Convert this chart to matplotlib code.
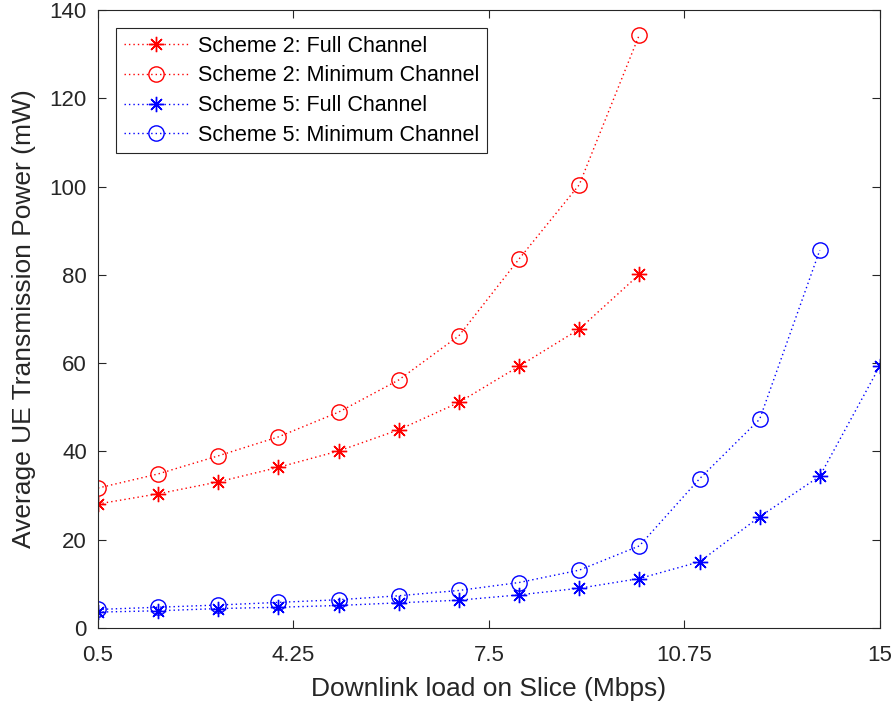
import matplotlib
matplotlib.use("Agg")
import matplotlib.pyplot as plt
import numpy as np

plt.rcParams['font.family'] = ['Liberation Sans', 'DejaVu Sans']

# Load points are plotted by index; the axis labels show the load in Mbps
load_index = np.arange(1, 15)
tick_positions = [1, 4.25, 7.5, 10.75, 14]
tick_labels = ['0.5', '4.25', '7.5', '10.75', '15']

scheme2_full = [28.1, 30.4, 33.1, 36.4, 40.1, 44.9, 51.1, 59.3, 67.7, 80.1]
scheme2_min = [31.7, 34.9, 39.0, 43.3, 48.9, 56.2, 66.2, 83.6, 100.4, 134.4]
scheme5_full = [3.6, 3.9, 4.4, 4.7, 5.1, 5.7, 6.3, 7.5, 9.0, 11.2, 15.0, 25.2, 34.4, 59.4]
scheme5_min = [4.2, 4.7, 5.2, 5.8, 6.4, 7.3, 8.5, 10.3, 13.1, 18.6, 33.8, 47.3, 85.6]

series = [
    ("Scheme 2: Full Channel", scheme2_full, 'red', (8, 2, 0)),
    ("Scheme 2: Minimum Channel", scheme2_min, 'red', 'o'),
    ("Scheme 5: Full Channel", scheme5_full, 'blue', (8, 2, 0)),
    ("Scheme 5: Minimum Channel", scheme5_min, 'blue', 'o'),
]

fig = plt.figure(figsize=(8.95, 7.06), dpi=100)
ax = fig.add_axes([0.1095, 0.1105, 0.8737, 0.8753])

text_color = '#262626'

for label, values, color, marker in series:
    ax.plot(load_index[:len(values)], values, linestyle=(0, (1, 2.2)), color=color,
            linewidth=1.0, marker=marker, markersize=11, markerfacecolor='none',
            markeredgecolor=color, markeredgewidth=1.0, label=label)

ax.set_xlim(1, 14)
ax.set_ylim(0, 140)
ax.set_xticks(tick_positions)
ax.set_xticklabels(tick_labels)
ax.set_yticks(np.arange(0, 141, 20))

ax.tick_params(direction='in', length=6, width=0.8, top=True, right=True,
               labelsize=16, colors=text_color)
ax.tick_params(axis='x', pad=12)
ax.tick_params(axis='y', pad=8)
for side in ax.spines.values():
    side.set_color(text_color)
    side.set_linewidth(0.8)

ax.set_xlabel("Downlink load on Slice (Mbps)", fontsize=19, color=text_color, labelpad=8)
ax.set_ylabel("Average UE Transmission Power (mW)", fontsize=19, color=text_color, labelpad=10)

leg = ax.legend(loc='upper left', fontsize=15.5, frameon=True, fancybox=False,
                edgecolor=text_color, framealpha=1, handlelength=3.0,
                borderaxespad=0.85, labelspacing=0.4, borderpad=0.35, handletextpad=0.45)
leg.get_frame().set_linewidth(0.8)
for t in leg.get_texts():
    t.set_color('black')

fig.savefig("out.png", dpi=100)
